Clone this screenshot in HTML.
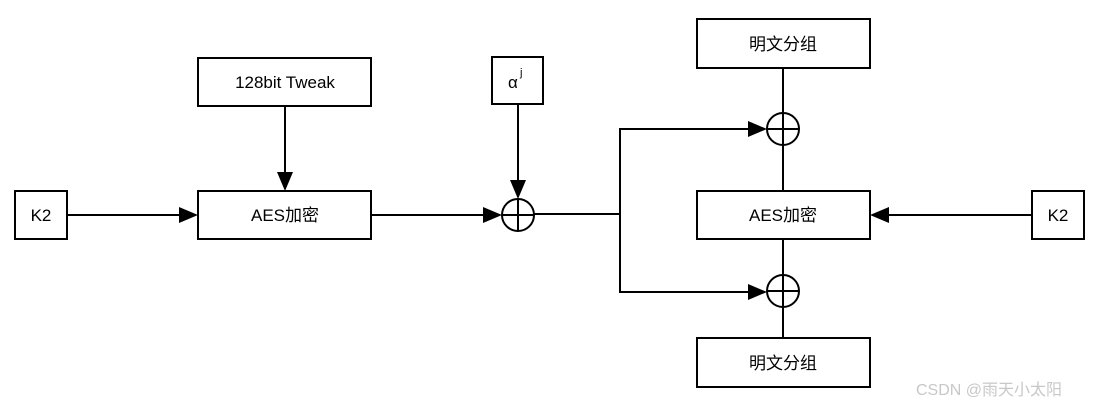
<!DOCTYPE html>
<html><head><meta charset="utf-8"><style>
html,body{margin:0;padding:0;background:#fff;}
svg text{font-family:"Liberation Sans","Noto Sans CJK SC",sans-serif;font-size:17px;fill:#000;}
</style></head><body>
<svg width="1112" height="409" xmlns="http://www.w3.org/2000/svg">
<defs><marker id="a" markerWidth="10" markerHeight="10" refX="10" refY="5" orient="auto" markerUnits="userSpaceOnUse"><path d="M0,0 L10,5 L0,10" transform="scale(2.1,1.5) translate(-5.2,-1.67)" fill="#000"/></marker></defs>
<g fill="none" stroke="#000" stroke-width="2">
<rect x="15" y="191" width="52" height="48"/>
<rect x="198" y="58" width="173" height="48"/>
<rect x="198" y="191" width="173" height="48"/>
<rect x="492" y="57" width="51" height="47"/>
<rect x="697" y="19" width="173" height="49"/>
<rect x="697" y="191" width="173" height="48"/>
<rect x="697" y="338" width="173" height="49"/>
<rect x="1032" y="191" width="52" height="48"/>
<circle cx="518" cy="215" r="16"/>
<line x1="502" y1="215" x2="534" y2="215"/><line x1="518" y1="199" x2="518" y2="231"/>
<circle cx="783" cy="129" r="16"/>
<line x1="767" y1="129" x2="799" y2="129"/>
<circle cx="783" cy="291" r="16"/>
<line x1="767" y1="291" x2="799" y2="291"/>
<line x1="783" y1="68" x2="783" y2="191"/>
<line x1="783" y1="239" x2="783" y2="338"/>
<line x1="534" y1="214" x2="620" y2="214"/>
<polyline points="620,129 620,293"/>
</g>
<g fill="#000">
<rect x="67" y="214" width="115" height="2"/><polygon points="198,215 179,207 179,223"/>
<rect x="284" y="106" width="2" height="70"/><polygon points="285,191 277,172 293,172"/>
<rect x="371" y="214" width="115" height="2"/><polygon points="502,215 483,207 483,223"/>
<rect x="517" y="104" width="2" height="78"/><polygon points="518,199 510,180 526,180"/>
<rect x="619" y="128" width="133" height="2"/><polygon points="767,129 748,121 748,137"/>
<rect x="619" y="291" width="133" height="2"/><polygon points="767,292 748,284 748,300"/>
<rect x="887" y="214" width="145" height="2"/><polygon points="870,215 889,207 889,223"/>
</g>
<text x="41" y="221" text-anchor="middle">K2</text>
<text x="285" y="88" text-anchor="middle">128bit Tweak</text>
<text x="285" y="221" text-anchor="middle">AES加密</text>
<text x="508" y="88">α</text><text x="520" y="76" style="font-size:11px">j</text>
<text x="783" y="50" text-anchor="middle">明文分组</text>
<text x="783" y="221" text-anchor="middle">AES加密</text>
<text x="783" y="369" text-anchor="middle">明文分组</text>
<text x="1058" y="221" text-anchor="middle">K2</text>
<text x="916" y="395" style="font-size:16px;fill:#c8c8c8">CSDN @雨天小太阳</text>
</svg>
</body></html>
